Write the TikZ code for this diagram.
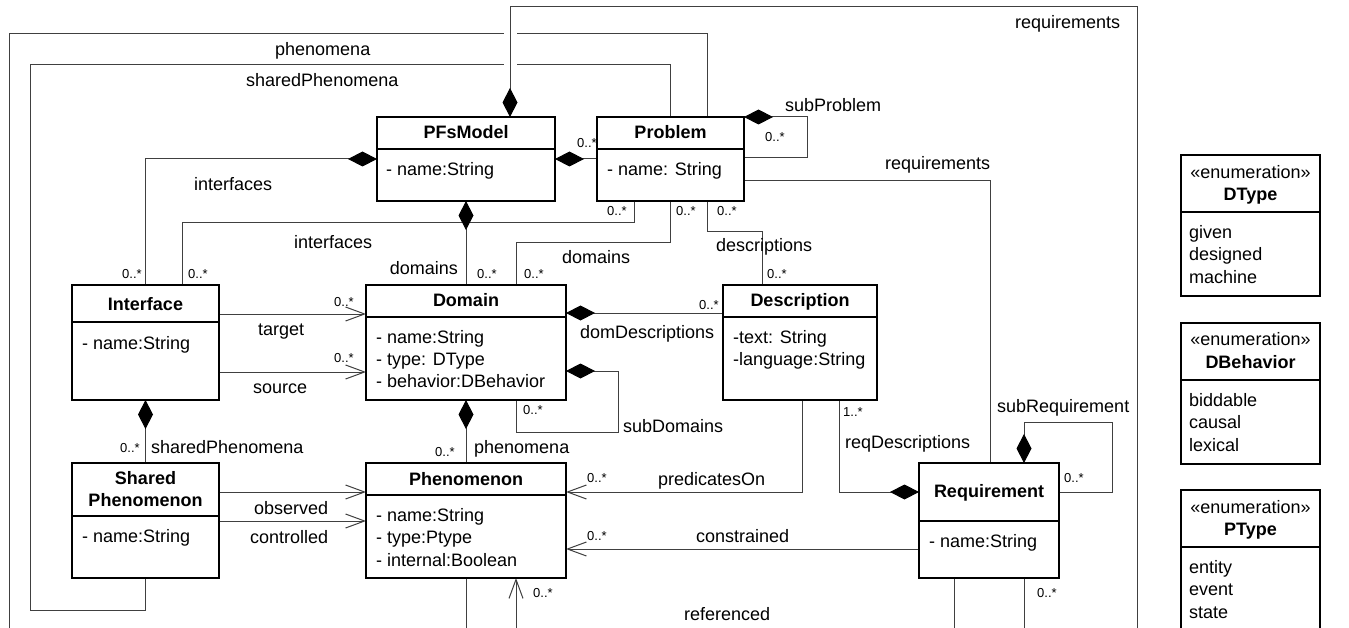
\documentclass[tikz,border=0pt]{standalone}
\usepackage{fontspec}
\setmainfont{Liberation Sans}
\usetikzlibrary{arrows.meta}
\begin{document}
\begin{tikzpicture}[x=1pt,y=-1pt,
  cls/.style={draw=black, line width=1.3pt, fill=white, inner sep=0pt, outer sep=0pt},
  divider/.style={draw=black, line width=1.3pt},
  conn/.style={draw=black!75, line width=1pt},
  comp/.style={conn, {Diamond[length=29pt,width=15pt,black,fill=black]}-},
  nav/.style={conn, -{Straight Barb[length=19pt,width=14pt]}},
  lbl/.style={font=\fontsize{18}{21}\selectfont, inner sep=0pt, anchor=base west},
  hdr/.style={font=\fontsize{18}{21}\selectfont\bfseries, inner sep=0pt, anchor=base},
  ster/.style={font=\fontsize{18}{21}\selectfont, inner sep=0pt, anchor=base},
  mult/.style={font=\fontsize{13}{15}\selectfont, inner sep=0pt, anchor=base west}]

\fill[white] (0,0) rectangle (1349,628);
\useasboundingbox (0,0) rectangle (1349,628);
\clip (0,0) rectangle (1349,628);

% ---------- class boxes (placed first so connectors can refer to them) ----------
\path
  node[cls, minimum width=178pt, minimum height=84pt]  (pfs)   at (466,159)    {}
  node[cls, minimum width=147pt, minimum height=84pt]  (prob)  at (670.5,159)  {}
  node[cls, minimum width=147pt, minimum height=115pt] (iface) at (145.5,342.5) {}
  node[cls, minimum width=200pt, minimum height=115pt] (dom)   at (466,342.5)  {}
  node[cls, minimum width=154pt, minimum height=115pt] (desc)  at (800,342.5)  {}
  node[cls, minimum width=147pt, minimum height=115pt] (sp)    at (145.5,520.5) {}
  node[cls, minimum width=200pt, minimum height=115pt] (phen)  at (466,520.5)  {}
  node[cls, minimum width=140pt, minimum height=115pt] (req)   at (989,520.5)  {}
  node[cls, minimum width=139pt, minimum height=141pt] (dtype) at (1250.5,225.5) {}
  node[cls, minimum width=139pt, minimum height=141pt] (dbeh)  at (1250.5,393.5) {}
  node[cls, minimum width=139pt, minimum height=170pt] (ptype) at (1250.5,575)  {};

% free ends of connectors that run on below the lower edge
\coordinate (phenOut)  at (9,640);
\coordinate (reqOut)   at (1137,640);
\coordinate (phenDown) at (466,640);
\coordinate (refUp)    at (516,640);
\coordinate (reqDownA) at (954,640);
\coordinate (reqDownB) at (1024,640);

% ---------- connectors ----------
% phenomena: Problem -> around the left edge
\draw[conn] (prob.north -| 707,0) -- (707,34) -- (9,34) -- (phenOut);
% sharedPhenomena: Problem -> Shared Phenomenon
\draw[conn] (prob.north) -- (670.5,65) -- (30,65) -- (30,610) -- (145.5,610) -- (sp.south);
% line jump where the requirements connector crosses
\draw[white, line width=13pt] (510,20) -- (510,80);
% requirements: PFsModel -> Requirement (outer route)
\draw[comp] (pfs.north -| 510,0) -- (510,7) -- (1137,7) -- (reqOut);
% problems
\draw[comp] (pfs.east) -- (prob.west);
% subProblem
\draw[comp] (prob.north east) -- (807,117) -- (807,158) -- (prob.east |- 0,158);
% requirements: Problem -> Requirement
\draw[conn] (prob.east |- 0,181) -- (990,181) -- (req.north -| 990,0);
% interfaces: PFsModel -> Interface
\draw[comp] (pfs.west) -- (145.5,159) -- (iface.north);
% interfaces: Problem -> Interface
\draw[conn] (prob.south -| 634,0) -- (634,223) -- (182,223) -- (iface.north -| 182,0);
% domains: PFsModel -> Domain
\draw[comp] (pfs.south) -- (dom.north);
% domains: Problem -> Domain
\draw[conn] (prob.south) -- (670.5,243) -- (516,243) -- (dom.north -| 516,0);
% descriptions: Problem -> Description
\draw[conn] (prob.south -| 707,0) -- (707,232) -- (762,232) -- (desc.north -| 762,0);
% target / source
\draw[nav] (iface.east |- 0,314) -- (dom.west |- 0,314);
\draw[nav] (iface.east |- 0,372) -- (dom.west |- 0,372);
% domDescriptions
\draw[comp] (dom.east |- 0,313) -- (desc.west |- 0,313);
% subDomains
\draw[comp] (dom.east |- 0,371) -- (618,371) -- (618,432) -- (516,432) -- (dom.south -| 516,0);
% phenomena: Domain -> Phenomenon
\draw[comp] (dom.south) -- (phen.north);
% sharedPhenomena: Interface -> Shared Phenomenon
\draw[comp] (iface.south) -- (sp.north);
% observed / controlled
\draw[nav] (sp.east |- 0,492) -- (phen.west |- 0,492);
\draw[nav] (sp.east |- 0,521) -- (phen.west |- 0,521);
% predicatesOn
\draw[nav] (desc.south -| 802,0) -- (802,492) -- (phen.east |- 0,492);
% constrained
\draw[nav] (req.west |- 0,549) -- (phen.east |- 0,549);
% reqDescriptions
\draw[comp] (req.west |- 0,492) -- (839,492) -- (desc.south -| 839,0);
% subRequirement
\draw[comp] (req.north -| 1024,0) -- (1024,422) -- (1112,422) -- (1112,492) -- (req.east |- 0,492);
% lines leaving at the lower edge
\draw[conn] (req.south -| 954,0) -- (reqDownA);
\draw[conn] (req.south -| 1024,0) -- (reqDownB);
\draw[conn] (phen.south) -- (phenDown);
\draw[nav] (refUp) -- (phen.south -| 516,0);

% ---------- boxes redrawn on top of connector ends ----------
\path
  node[cls, minimum width=178pt, minimum height=84pt]  (pfsB)   at (pfs)   {}
  node[cls, minimum width=147pt, minimum height=84pt]  (probB)  at (prob)  {}
  node[cls, minimum width=147pt, minimum height=115pt] (ifaceB) at (iface) {}
  node[cls, minimum width=200pt, minimum height=115pt] (domB)   at (dom)   {}
  node[cls, minimum width=154pt, minimum height=115pt] (descB)  at (desc)  {}
  node[cls, minimum width=147pt, minimum height=115pt] (spB)    at (sp)    {}
  node[cls, minimum width=200pt, minimum height=115pt] (phenB)  at (phen)  {}
  node[cls, minimum width=140pt, minimum height=115pt] (reqB)   at (req)   {};

% compartment dividers
\draw[divider] (pfs.west |- 0,149) -- (pfs.east |- 0,149);
\draw[divider] (prob.west |- 0,149) -- (prob.east |- 0,149);
\draw[divider] (iface.west |- 0,322) -- (iface.east |- 0,322);
\draw[divider] (dom.west |- 0,317) -- (dom.east |- 0,317);
\draw[divider] (desc.west |- 0,317) -- (desc.east |- 0,317);
\draw[divider] (sp.west |- 0,516) -- (sp.east |- 0,516);
\draw[divider] (phen.west |- 0,495) -- (phen.east |- 0,495);
\draw[divider] (req.west |- 0,521) -- (req.east |- 0,521);
\draw[divider] (dtype.west |- 0,212) -- (dtype.east |- 0,212);
\draw[divider] (dbeh.west |- 0,380) -- (dbeh.east |- 0,380);
\draw[divider] (ptype.west |- 0,547) -- (ptype.east |- 0,547);

% ---------- class contents ----------
\node[hdr] (tPfs) at (466,138.5) {PFsModel};
\node[lbl] (aPfs) at (386,176) {- name:String};
\node[hdr] (tProb) at (670.5,138.5) {Problem};
\node[lbl] (aProb) at (607,176) {- name: String};
\node[hdr] (tIface) at (145.5,310) {Interface};
\node[lbl] (aIface) at (82,349) {- name:String};
\node[hdr] (tDom) at (466,307) {Domain};
\node[lbl] (aDom1) at (376,343) {- name:String};
\node[lbl] (aDom2) at (376,365.3) {- type: DType};
\node[lbl] (aDom3) at (376,387.5) {- behavior:DBehavior};
\node[hdr] (tDesc) at (800,307) {Description};
\node[lbl] (aDesc1) at (733,343) {-text: String};
\node[lbl] (aDesc2) at (733,365.3) {-language:String};
\node[hdr] (tSp1) at (145.5,484) {Shared};
\node[hdr] (tSp2) at (145.5,506.5) {Phenomenon};
\node[lbl] (aSp) at (82,542.5) {- name:String};
\node[hdr] (tPhen) at (466,485.5) {Phenomenon};
\node[lbl] (aPhen1) at (376,521.5) {- name:String};
\node[lbl] (aPhen2) at (376,543.8) {- type:Ptype};
\node[lbl] (aPhen3) at (376,566) {- internal:Boolean};
\node[hdr] (tReq) at (989,497.5) {Requirement};
\node[lbl] (aReq) at (929,547.5) {- name:String};

\node[ster] (sDt) at (1250.5,178.5) {«enumeration»};
\node[hdr]  (tDt) at (1250.5,200.7) {DType};
\node[lbl] (eDt1) at (1189,238.3) {given};
\node[lbl] (eDt2) at (1189,260.8) {designed};
\node[lbl] (eDt3) at (1189,283.3) {machine};
\node[ster] (sDb) at (1250.5,345.7) {«enumeration»};
\node[hdr]  (tDb) at (1250.5,368.3) {DBehavior};
\node[lbl] (eDb1) at (1189,406.7) {biddable};
\node[lbl] (eDb2) at (1189,428.8) {causal};
\node[lbl] (eDb3) at (1189,451) {lexical};
\node[ster] (sPt) at (1250.5,513.3) {«enumeration»};
\node[hdr]  (tPt) at (1250.5,535) {PType};
\node[lbl] (ePt1) at (1189,573.3) {entity};
\node[lbl] (ePt2) at (1189,595.8) {event};
\node[lbl] (ePt3) at (1189,618.3) {state};

% ---------- role names ----------
\node[lbl] (rPhen)   at (275,56)  {phenomena};
\node[lbl] (rShared) at (246,87)  {sharedPhenomena};
\node[lbl] (rReqTop) at (1015,29) {requirements};
\node[lbl] (rSubP)   at (785,112) {subProblem};
\node[lbl] (rReq)    at (885,170) {requirements};
\node[lbl] (rIf1)    at (194,191) {interfaces};
\node[lbl] (rIf2)    at (294,249) {interfaces};
\node[lbl, anchor=base east] (rDom1) at (458,275) {domains};
\node[lbl] (rDom2)   at (562,264) {domains};
\node[lbl] (rDescs)  at (716,252) {descriptions};
\node[lbl] (rTarget) at (258,335) {target};
\node[lbl] (rSource) at (253,393) {source};
\node[lbl] (rDomD)   at (580,338) {domDescriptions};
\node[lbl] (rSubD)   at (623,432) {subDomains};
\node[lbl] (rPhen2)  at (474,453) {phenomena};
\node[lbl] (rShared2) at (151,453) {sharedPhenomena};
\node[lbl] (rObs)    at (254,514) {observed};
\node[lbl] (rCtl)    at (250,543) {controlled};
\node[lbl] (rPred)   at (658,485) {predicatesOn};
\node[lbl] (rCons)   at (696,542) {constrained};
\node[lbl] (rReqD)   at (845,448) {reqDescriptions};
\node[lbl] (rSubR)   at (997,412) {subRequirement};
\node[lbl] (rRef)    at (684,620) {referenced};

% ---------- multiplicities ----------
\node[mult] (m1)  at (577,147.5) {0..*};
\node[mult] (m2)  at (765,141.5) {0..*};
\node[mult] (m3)  at (122,278.5) {0..*};
\node[mult] (m4)  at (607,215.5) {0..*};
\node[mult] (m5)  at (188,278.5) {0..*};
\node[mult] (m6)  at (477,278.5) {0..*};
\node[mult] (m7)  at (676,215.5) {0..*};
\node[mult] (m8)  at (524,278.5) {0..*};
\node[mult] (m9)  at (717,215.5) {0..*};
\node[mult] (m10) at (767,278.5) {0..*};
\node[mult] (m11) at (334,306.5) {0..*};
\node[mult] (m12) at (334,362.5) {0..*};
\node[mult] (m13) at (699,309.5) {0..*};
\node[mult] (m14) at (523,414.5) {0..*};
\node[mult] (m15) at (435,456.5) {0..*};
\node[mult] (m16) at (120,452.5) {0..*};
\node[mult] (m17) at (587,482.5) {0..*};
\node[mult] (m18) at (587,540.5) {0..*};
\node[mult] (m19) at (843,416.5) {1..*};
\node[mult] (m20) at (1064,482.5) {0..*};
\node[mult] (m21) at (533,597.5) {0..*};
\node[mult] (m22) at (1037,597.5) {0..*};
\end{tikzpicture}
\end{document}
